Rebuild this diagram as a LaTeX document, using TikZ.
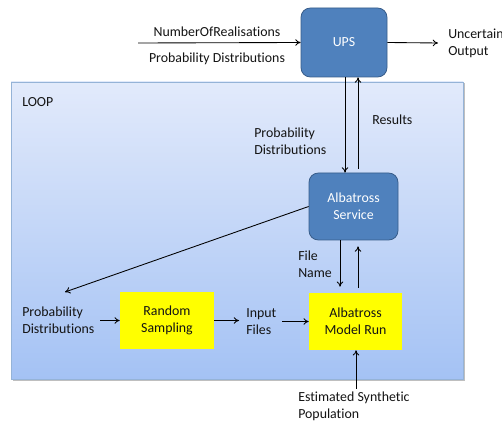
\documentclass[tikz,border=0pt]{standalone}
\usepackage{fontspec}
\setmainfont{Carlito}[Ligatures={NoCommon}]
\usetikzlibrary{arrows.meta,shadows}
\definecolor{upsfill}{RGB}{79,129,189}
\definecolor{upsdraw}{RGB}{56,93,138}
\definecolor{looptop}{RGB}{226,234,251}
\definecolor{loopbot}{RGB}{164,194,244}
\definecolor{loopdraw}{RGB}{149,179,215}
\definecolor{yel}{RGB}{255,255,0}
\definecolor{txt}{RGB}{20,20,20}
\tikzset{
  bluebox/.style={draw=upsdraw, fill=upsfill, rounded corners=7pt, text=white, align=center, line width=0.6pt},
  yelbox/.style={fill=yel, align=center, text=txt},
  lbl/.style={align=left, inner sep=0pt, anchor=west, text=txt},
  clbl/.style={align=center, inner sep=0pt, text=txt},
  arr/.style={-{To[length=4pt,width=5pt]}, line width=0.65pt},
}
\begin{document}
\begin{tikzpicture}[x=0.75pt,y=-0.75pt, font=\fontsize{10.4}{12.75}\selectfont]
\useasboundingbox (0,0) rectangle (502,423);
\clip (0,0) rectangle (502,423);
\fill[white] (0,0) rectangle (502,423);
% loop background
\fill[black!25] (12.5,83.5) rectangle (464.5,381);
\shade[top color=looptop, bottom color=loopbot, draw=loopdraw, line width=0.6pt] (11,82) rectangle (463,379);
\node[lbl] (loop) at (22,102) {LOOP};

% boxes
\node[bluebox, minimum width=64.5pt, minimum height=51.75pt] (ups) at (344,42.5) {UPS};
\node[bluebox, minimum width=66.75pt, minimum height=50.25pt] (svc) at (353.5,206.5) {Albatross\\Service};
\node[yelbox, minimum width=69.75pt, minimum height=42.75pt] (model) at (355.5,321.5) {Albatross\\Model Run};
\node[yelbox, minimum width=70.5pt, minimum height=42.75pt] (rs) at (167,320.5) {Random\\Sampling};

% labels
\node[clbl] (nor) at (217,32) {NumberOfRealisations};
\node[clbl] (pd0) at (217,59) {Probability Distributions};
\node[lbl] (unc) at (448,43) {Uncertain\\Output};
\node[lbl] (pd1) at (254,141) {Probability\\Distributions};
\node[lbl] (res) at (372,120) {Results};
\node[lbl] (fn) at (298,264.5) {File\\Name};
\node[lbl] (pd2) at (22,320.5) {Probability\\Distributions};
\node[lbl] (inp) at (246,321.5) {Input\\Files};
\node[lbl] (est) at (298,406.5) {Estimated Synthetic\\Population};

% helper coordinates
\coordinate (inl) at (138,43);
\coordinate (outr) at (438,43);
\coordinate (xa) at (345,0);
\coordinate (xb) at (358,0);
\coordinate (xd) at (340,0);
\coordinate (xe) at (356,0);
\coordinate (xf) at (100,0);
\coordinate (xg) at (282,0);
\coordinate (pdend) at (65,292);

% connectors
\draw[arr] (inl) -- (ups.west);
\draw[arr] (ups.east) -- (outr);
\draw[arr] (ups.south -| xa) -- (svc.north -| xa);
\draw[arr] ([yshift=3pt]svc.north -| xb) -- (ups.south -| xb);
\draw[arr] (svc.west) -- (pdend);
\draw[arr] (svc.south -| xd) -- ([yshift=4.5pt]model.north -| xd);
\draw[arr] ([yshift=3.75pt]model.north -| xb) -- ([yshift=-4.5pt]svc.south -| xb);
\draw[arr] (rs.west -| xf) -- (rs.west);
\draw[arr] (rs.east) -- ([xshift=-5.25pt]inp.west |- rs.east);
\draw[arr] (model.west -| xg) -- (model.west);
\draw[arr] ([yshift=2.25pt]est.north -| xe) -- (model.south -| xe);
\end{tikzpicture}
\end{document}
